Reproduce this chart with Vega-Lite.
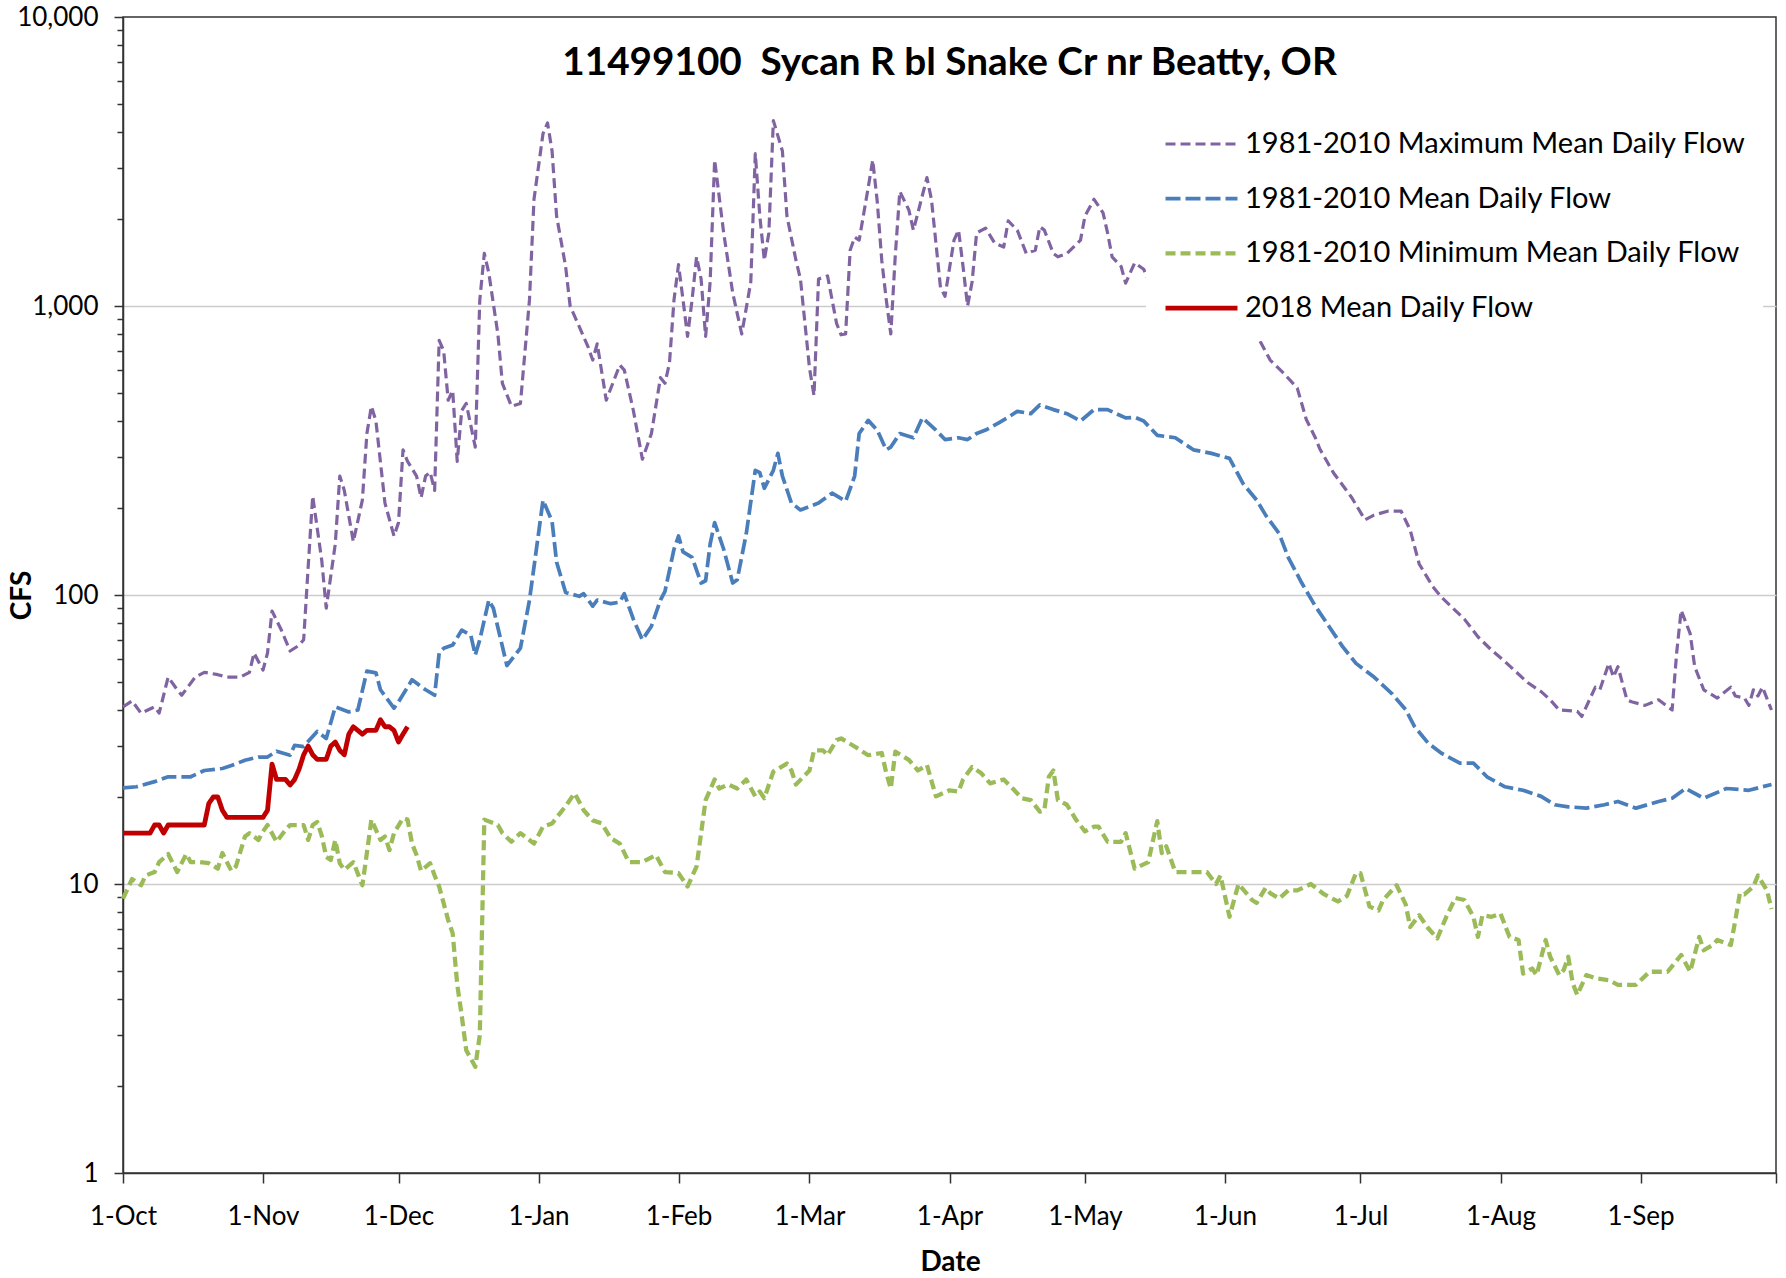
{
  "$schema": "https://vega.github.io/schema/vega-lite/v6.json",
  "width": 1653,
  "height": 1156,
  "autosize": {"type": "none"},
  "padding": {"left": 123, "top": 17, "right": 10, "bottom": 105},
  "background": "white",
  "config": {
    "font": "Lato",
    "view": {"stroke": "#333333", "strokeWidth": 1.5},
    "axis": {
      "domainColor": "#333333", "domainWidth": 1.5,
      "tickColor": "#333333", "tickWidth": 1.5,
      "labelFont": "Lato", "labelFontSize": 26, "labelColor": "#000000",
      "titleFont": "Lato", "titleFontSize": 28, "titleFontWeight": "bold", "titleColor": "#000000"
    }
  },
  "title": {
    "text": "11499100\u00a0 Sycan R bl Snake Cr nr Beatty, OR",
    "font": "Lato", "fontSize": 38.7, "fontWeight": "bold", "color": "#000000",
    "anchor": "middle", "frame": "group", "offset": -79
  },
  "data": {"values": [
    {"d":"2019-10-01","s":"max","v":41},{"d":"2019-10-03","s":"max","v":43},{"d":"2019-10-05","s":"max","v":39},{"d":"2019-10-08","s":"max","v":41},{"d":"2019-10-09","s":"max","v":39},{"d":"2019-10-11","s":"max","v":52},{"d":"2019-10-13","s":"max","v":47},{"d":"2019-10-14","s":"max","v":45},{"d":"2019-10-17","s":"max","v":52},{"d":"2019-10-19","s":"max","v":54},{"d":"2019-10-22","s":"max","v":53},{"d":"2019-10-24","s":"max","v":52},{"d":"2019-10-27","s":"max","v":52},{"d":"2019-10-29","s":"max","v":54},{"d":"2019-10-30","s":"max","v":63},{"d":"2019-11-01","s":"max","v":55},{"d":"2019-11-02","s":"max","v":63},{"d":"2019-11-03","s":"max","v":88},{"d":"2019-11-05","s":"max","v":76},{"d":"2019-11-07","s":"max","v":64},{"d":"2019-11-09","s":"max","v":67},{"d":"2019-11-10","s":"max","v":70},{"d":"2019-11-11","s":"max","v":125},{"d":"2019-11-12","s":"max","v":220},{"d":"2019-11-14","s":"max","v":132},{"d":"2019-11-15","s":"max","v":90},{"d":"2019-11-17","s":"max","v":150},{"d":"2019-11-18","s":"max","v":258},{"d":"2019-11-19","s":"max","v":230},{"d":"2019-11-21","s":"max","v":153},{"d":"2019-11-23","s":"max","v":213},{"d":"2019-11-24","s":"max","v":362},{"d":"2019-11-25","s":"max","v":450},{"d":"2019-11-26","s":"max","v":400},{"d":"2019-11-28","s":"max","v":208},{"d":"2019-11-30","s":"max","v":160},{"d":"2019-12-01","s":"max","v":178},{"d":"2019-12-02","s":"max","v":318},{"d":"2019-12-03","s":"max","v":290},{"d":"2019-12-05","s":"max","v":258},{"d":"2019-12-06","s":"max","v":217},{"d":"2019-12-07","s":"max","v":258},{"d":"2019-12-08","s":"max","v":266},{"d":"2019-12-09","s":"max","v":230},{"d":"2019-12-10","s":"max","v":760},{"d":"2019-12-11","s":"max","v":700},{"d":"2019-12-12","s":"max","v":472},{"d":"2019-12-13","s":"max","v":510},{"d":"2019-12-14","s":"max","v":290},{"d":"2019-12-15","s":"max","v":435},{"d":"2019-12-16","s":"max","v":460},{"d":"2019-12-18","s":"max","v":325},{"d":"2019-12-19","s":"max","v":1050},{"d":"2019-12-20","s":"max","v":1520},{"d":"2019-12-21","s":"max","v":1300},{"d":"2019-12-23","s":"max","v":800},{"d":"2019-12-24","s":"max","v":540},{"d":"2019-12-26","s":"max","v":450},{"d":"2019-12-28","s":"max","v":460},{"d":"2019-12-30","s":"max","v":1050},{"d":"2019-12-31","s":"max","v":2340},{"d":"2020-01-02","s":"max","v":3950},{"d":"2020-01-03","s":"max","v":4300},{"d":"2020-01-04","s":"max","v":3440},{"d":"2020-01-05","s":"max","v":2050},{"d":"2020-01-07","s":"max","v":1370},{"d":"2020-01-08","s":"max","v":1000},{"d":"2020-01-10","s":"max","v":850},{"d":"2020-01-12","s":"max","v":720},{"d":"2020-01-13","s":"max","v":650},{"d":"2020-01-14","s":"max","v":740},{"d":"2020-01-16","s":"max","v":472},{"d":"2020-01-19","s":"max","v":625},{"d":"2020-01-20","s":"max","v":600},{"d":"2020-01-22","s":"max","v":435},{"d":"2020-01-24","s":"max","v":295},{"d":"2020-01-26","s":"max","v":362},{"d":"2020-01-28","s":"max","v":565},{"d":"2020-01-29","s":"max","v":540},{"d":"2020-01-30","s":"max","v":635},{"d":"2020-01-31","s":"max","v":1050},{"d":"2020-02-01","s":"max","v":1390},{"d":"2020-02-02","s":"max","v":1050},{"d":"2020-02-03","s":"max","v":785},{"d":"2020-02-04","s":"max","v":1050},{"d":"2020-02-05","s":"max","v":1480},{"d":"2020-02-06","s":"max","v":1240},{"d":"2020-02-07","s":"max","v":785},{"d":"2020-02-08","s":"max","v":1210},{"d":"2020-02-09","s":"max","v":3200},{"d":"2020-02-11","s":"max","v":1790},{"d":"2020-02-13","s":"max","v":1110},{"d":"2020-02-15","s":"max","v":800},{"d":"2020-02-17","s":"max","v":1210},{"d":"2020-02-18","s":"max","v":3370},{"d":"2020-02-19","s":"max","v":2050},{"d":"2020-02-20","s":"max","v":1440},{"d":"2020-02-21","s":"max","v":1790},{"d":"2020-02-22","s":"max","v":4380},{"d":"2020-02-24","s":"max","v":3440},{"d":"2020-02-25","s":"max","v":2050},{"d":"2020-02-27","s":"max","v":1440},{"d":"2020-02-28","s":"max","v":1240},{"d":"2020-03-01","s":"max","v":610},{"d":"2020-03-02","s":"max","v":490},{"d":"2020-03-03","s":"max","v":1240},{"d":"2020-03-05","s":"max","v":1270},{"d":"2020-03-07","s":"max","v":870},{"d":"2020-03-08","s":"max","v":795},{"d":"2020-03-09","s":"max","v":800},{"d":"2020-03-10","s":"max","v":1560},{"d":"2020-03-11","s":"max","v":1730},{"d":"2020-03-12","s":"max","v":1690},{"d":"2020-03-14","s":"max","v":2570},{"d":"2020-03-15","s":"max","v":3200},{"d":"2020-03-16","s":"max","v":2300},{"d":"2020-03-17","s":"max","v":1440},{"d":"2020-03-18","s":"max","v":1050},{"d":"2020-03-19","s":"max","v":800},{"d":"2020-03-20","s":"max","v":1500},{"d":"2020-03-21","s":"max","v":2490},{"d":"2020-03-23","s":"max","v":2150},{"d":"2020-03-24","s":"max","v":1830},{"d":"2020-03-25","s":"max","v":2100},{"d":"2020-03-27","s":"max","v":2780},{"d":"2020-03-28","s":"max","v":2340},{"d":"2020-03-29","s":"max","v":1650},{"d":"2020-03-30","s":"max","v":1160},{"d":"2020-03-31","s":"max","v":1080},{"d":"2020-04-02","s":"max","v":1690},{"d":"2020-04-03","s":"max","v":1830},{"d":"2020-04-04","s":"max","v":1370},{"d":"2020-04-05","s":"max","v":1000},{"d":"2020-04-06","s":"max","v":1210},{"d":"2020-04-07","s":"max","v":1790},{"d":"2020-04-09","s":"max","v":1860},{"d":"2020-04-11","s":"max","v":1650},{"d":"2020-04-13","s":"max","v":1600},{"d":"2020-04-14","s":"max","v":1970},{"d":"2020-04-16","s":"max","v":1830},{"d":"2020-04-18","s":"max","v":1520},{"d":"2020-04-20","s":"max","v":1560},{"d":"2020-04-21","s":"max","v":1880},{"d":"2020-04-22","s":"max","v":1830},{"d":"2020-04-24","s":"max","v":1520},{"d":"2020-04-25","s":"max","v":1480},{"d":"2020-04-27","s":"max","v":1520},{"d":"2020-04-30","s":"max","v":1690},{"d":"2020-05-01","s":"max","v":2050},{"d":"2020-05-03","s":"max","v":2340},{"d":"2020-05-05","s":"max","v":2100},{"d":"2020-05-06","s":"max","v":1790},{"d":"2020-05-07","s":"max","v":1480},{"d":"2020-05-09","s":"max","v":1370},{"d":"2020-05-10","s":"max","v":1200},{"d":"2020-05-12","s":"max","v":1410},{"d":"2020-05-14","s":"max","v":1340},{"d":"2020-05-16","s":"max","v":1140},{"d":"2020-05-22","s":"max","v":1050},{"d":"2020-05-29","s":"max","v":950},{"d":"2020-06-04","s":"max","v":870},{"d":"2020-06-08","s":"max","v":795},{"d":"2020-06-11","s":"max","v":650},{"d":"2020-06-14","s":"max","v":585},{"d":"2020-06-17","s":"max","v":520},{"d":"2020-06-19","s":"max","v":405},{"d":"2020-06-21","s":"max","v":350},{"d":"2020-06-22","s":"max","v":320},{"d":"2020-06-25","s":"max","v":265},{"d":"2020-06-29","s":"max","v":218},{"d":"2020-07-02","s":"max","v":182},{"d":"2020-07-04","s":"max","v":189},{"d":"2020-07-07","s":"max","v":195},{"d":"2020-07-10","s":"max","v":195},{"d":"2020-07-12","s":"max","v":168},{"d":"2020-07-14","s":"max","v":128},{"d":"2020-07-17","s":"max","v":107},{"d":"2020-07-19","s":"max","v":98},{"d":"2020-07-21","s":"max","v":91.5},{"d":"2020-07-24","s":"max","v":82.5},{"d":"2020-07-27","s":"max","v":71.7},{"d":"2020-07-30","s":"max","v":64.5},{"d":"2020-08-02","s":"max","v":58.8},{"d":"2020-08-04","s":"max","v":55},{"d":"2020-08-07","s":"max","v":49.8},{"d":"2020-08-10","s":"max","v":46.3},{"d":"2020-08-12","s":"max","v":43.4},{"d":"2020-08-14","s":"max","v":40},{"d":"2020-08-18","s":"max","v":39.6},{"d":"2020-08-19","s":"max","v":38},{"d":"2020-08-22","s":"max","v":48},{"d":"2020-08-23","s":"max","v":47},{"d":"2020-08-25","s":"max","v":58},{"d":"2020-08-26","s":"max","v":52},{"d":"2020-08-27","s":"max","v":56.5},{"d":"2020-08-29","s":"max","v":43.4},{"d":"2020-08-30","s":"max","v":42.7},{"d":"2020-09-02","s":"max","v":41.5},{"d":"2020-09-05","s":"max","v":43.4},{"d":"2020-09-08","s":"max","v":40},{"d":"2020-09-09","s":"max","v":63},{"d":"2020-09-10","s":"max","v":88.5},{"d":"2020-09-12","s":"max","v":73.5},{"d":"2020-09-13","s":"max","v":56.5},{"d":"2020-09-15","s":"max","v":47},{"d":"2020-09-18","s":"max","v":44},{"d":"2020-09-21","s":"max","v":48},{"d":"2020-09-22","s":"max","v":44.7},{"d":"2020-09-24","s":"max","v":44},{"d":"2020-09-25","s":"max","v":41.5},{"d":"2020-09-26","s":"max","v":47},{"d":"2020-09-27","s":"max","v":44.7},{"d":"2020-09-28","s":"max","v":48},{"d":"2020-09-30","s":"max","v":40},

    {"d":"2019-10-01","s":"mean","v":21.5},{"d":"2019-10-04","s":"mean","v":21.7},{"d":"2019-10-08","s":"mean","v":22.6},{"d":"2019-10-11","s":"mean","v":23.5},{"d":"2019-10-16","s":"mean","v":23.5},{"d":"2019-10-19","s":"mean","v":24.7},{"d":"2019-10-23","s":"mean","v":25.1},{"d":"2019-10-25","s":"mean","v":25.7},{"d":"2019-10-28","s":"mean","v":26.8},{"d":"2019-10-31","s":"mean","v":27.5},{"d":"2019-11-02","s":"mean","v":27.5},{"d":"2019-11-04","s":"mean","v":28.8},{"d":"2019-11-07","s":"mean","v":27.9},{"d":"2019-11-08","s":"mean","v":30.2},{"d":"2019-11-10","s":"mean","v":29.9},{"d":"2019-11-13","s":"mean","v":33.7},{"d":"2019-11-15","s":"mean","v":31.9},{"d":"2019-11-17","s":"mean","v":41},{"d":"2019-11-20","s":"mean","v":39.4},{"d":"2019-11-22","s":"mean","v":40},{"d":"2019-11-24","s":"mean","v":54.5},{"d":"2019-11-26","s":"mean","v":53.8},{"d":"2019-11-27","s":"mean","v":47},{"d":"2019-11-30","s":"mean","v":40.6},{"d":"2019-12-01","s":"mean","v":42.7},{"d":"2019-12-04","s":"mean","v":50.9},{"d":"2019-12-07","s":"mean","v":47},{"d":"2019-12-09","s":"mean","v":45},{"d":"2019-12-10","s":"mean","v":62.9},{"d":"2019-12-11","s":"mean","v":65.4},{"d":"2019-12-13","s":"mean","v":67.1},{"d":"2019-12-15","s":"mean","v":75.6},{"d":"2019-12-17","s":"mean","v":72.6},{"d":"2019-12-18","s":"mean","v":62},{"d":"2019-12-19","s":"mean","v":70},{"d":"2019-12-21","s":"mean","v":96},{"d":"2019-12-22","s":"mean","v":90},{"d":"2019-12-25","s":"mean","v":57},{"d":"2019-12-28","s":"mean","v":65.5},{"d":"2019-12-30","s":"mean","v":96},{"d":"2020-01-01","s":"mean","v":163},{"d":"2020-01-02","s":"mean","v":213},{"d":"2020-01-04","s":"mean","v":180},{"d":"2020-01-05","s":"mean","v":130},{"d":"2020-01-07","s":"mean","v":102},{"d":"2020-01-10","s":"mean","v":99},{"d":"2020-01-11","s":"mean","v":101},{"d":"2020-01-13","s":"mean","v":91.5},{"d":"2020-01-14","s":"mean","v":96},{"d":"2020-01-17","s":"mean","v":93.3},{"d":"2020-01-19","s":"mean","v":94.5},{"d":"2020-01-20","s":"mean","v":101},{"d":"2020-01-22","s":"mean","v":82.5},{"d":"2020-01-24","s":"mean","v":70},{"d":"2020-01-26","s":"mean","v":78},{"d":"2020-01-28","s":"mean","v":96},{"d":"2020-01-29","s":"mean","v":103},{"d":"2020-01-31","s":"mean","v":144},{"d":"2020-02-01","s":"mean","v":160},{"d":"2020-02-02","s":"mean","v":141},{"d":"2020-02-04","s":"mean","v":135},{"d":"2020-02-06","s":"mean","v":110},{"d":"2020-02-07","s":"mean","v":112},{"d":"2020-02-08","s":"mean","v":150},{"d":"2020-02-09","s":"mean","v":178},{"d":"2020-02-11","s":"mean","v":144},{"d":"2020-02-13","s":"mean","v":110},{"d":"2020-02-14","s":"mean","v":113},{"d":"2020-02-16","s":"mean","v":163},{"d":"2020-02-18","s":"mean","v":270},{"d":"2020-02-19","s":"mean","v":265},{"d":"2020-02-20","s":"mean","v":234},{"d":"2020-02-22","s":"mean","v":270},{"d":"2020-02-23","s":"mean","v":309},{"d":"2020-02-24","s":"mean","v":258},{"d":"2020-02-26","s":"mean","v":208},{"d":"2020-02-28","s":"mean","v":197},{"d":"2020-03-03","s":"mean","v":208},{"d":"2020-03-06","s":"mean","v":225},{"d":"2020-03-09","s":"mean","v":211},{"d":"2020-03-11","s":"mean","v":258},{"d":"2020-03-12","s":"mean","v":362},{"d":"2020-03-14","s":"mean","v":402},{"d":"2020-03-16","s":"mean","v":372},{"d":"2020-03-18","s":"mean","v":318},{"d":"2020-03-19","s":"mean","v":325},{"d":"2020-03-21","s":"mean","v":362},{"d":"2020-03-24","s":"mean","v":350},{"d":"2020-03-26","s":"mean","v":410},{"d":"2020-03-29","s":"mean","v":372},{"d":"2020-03-31","s":"mean","v":345},{"d":"2020-04-03","s":"mean","v":350},{"d":"2020-04-05","s":"mean","v":345},{"d":"2020-04-07","s":"mean","v":362},{"d":"2020-04-09","s":"mean","v":372},{"d":"2020-04-12","s":"mean","v":395},{"d":"2020-04-14","s":"mean","v":412},{"d":"2020-04-16","s":"mean","v":432},{"d":"2020-04-19","s":"mean","v":424},{"d":"2020-04-21","s":"mean","v":455},{"d":"2020-04-24","s":"mean","v":438},{"d":"2020-04-27","s":"mean","v":424},{"d":"2020-04-30","s":"mean","v":400},{"d":"2020-05-03","s":"mean","v":438},{"d":"2020-05-06","s":"mean","v":438},{"d":"2020-05-10","s":"mean","v":410},{"d":"2020-05-12","s":"mean","v":412},{"d":"2020-05-14","s":"mean","v":400},{"d":"2020-05-17","s":"mean","v":357},{"d":"2020-05-21","s":"mean","v":350},{"d":"2020-05-25","s":"mean","v":318},{"d":"2020-05-29","s":"mean","v":309},{"d":"2020-06-02","s":"mean","v":297},{"d":"2020-06-05","s":"mean","v":243},{"d":"2020-06-08","s":"mean","v":213},{"d":"2020-06-10","s":"mean","v":189},{"d":"2020-06-13","s":"mean","v":163},{"d":"2020-06-15","s":"mean","v":135},{"d":"2020-06-18","s":"mean","v":110},{"d":"2020-06-21","s":"mean","v":91.5},{"d":"2020-06-24","s":"mean","v":78},{"d":"2020-06-27","s":"mean","v":66.4},{"d":"2020-06-30","s":"mean","v":58},{"d":"2020-07-04","s":"mean","v":52},{"d":"2020-07-08","s":"mean","v":45.5},{"d":"2020-07-11","s":"mean","v":40.1},{"d":"2020-07-13","s":"mean","v":35},{"d":"2020-07-16","s":"mean","v":30.7},{"d":"2020-07-19","s":"mean","v":28.3},{"d":"2020-07-23","s":"mean","v":26.2},{"d":"2020-07-26","s":"mean","v":26.2},{"d":"2020-07-29","s":"mean","v":23.5},{"d":"2020-08-02","s":"mean","v":21.7},{"d":"2020-08-06","s":"mean","v":21.1},{"d":"2020-08-10","s":"mean","v":20.1},{"d":"2020-08-13","s":"mean","v":18.8},{"d":"2020-08-16","s":"mean","v":18.5},{"d":"2020-08-20","s":"mean","v":18.3},{"d":"2020-08-24","s":"mean","v":18.8},{"d":"2020-08-27","s":"mean","v":19.3},{"d":"2020-08-31","s":"mean","v":18.3},{"d":"2020-09-05","s":"mean","v":19.3},{"d":"2020-09-08","s":"mean","v":19.8},{"d":"2020-09-11","s":"mean","v":21.4},{"d":"2020-09-15","s":"mean","v":19.8},{"d":"2020-09-20","s":"mean","v":21.4},{"d":"2020-09-25","s":"mean","v":21.1},{"d":"2020-09-30","s":"mean","v":22.1},

    {"d":"2019-10-01","s":"min","v":8.9},{"d":"2019-10-03","s":"min","v":10.4},{"d":"2019-10-05","s":"min","v":9.9},{"d":"2019-10-06","s":"min","v":10.7},{"d":"2019-10-08","s":"min","v":11},{"d":"2019-10-09","s":"min","v":11.9},{"d":"2019-10-11","s":"min","v":12.7},{"d":"2019-10-13","s":"min","v":11},{"d":"2019-10-15","s":"min","v":12.7},{"d":"2019-10-16","s":"min","v":11.9},{"d":"2019-10-18","s":"min","v":11.9},{"d":"2019-10-20","s":"min","v":11.8},{"d":"2019-10-22","s":"min","v":11.3},{"d":"2019-10-23","s":"min","v":12.8},{"d":"2019-10-25","s":"min","v":11.1},{"d":"2019-10-26","s":"min","v":11.5},{"d":"2019-10-28","s":"min","v":14.6},{"d":"2019-10-29","s":"min","v":15},{"d":"2019-10-31","s":"min","v":14.2},{"d":"2019-11-01","s":"min","v":15.2},{"d":"2019-11-02","s":"min","v":16},{"d":"2019-11-04","s":"min","v":14},{"d":"2019-11-06","s":"min","v":15.4},{"d":"2019-11-07","s":"min","v":16},{"d":"2019-11-10","s":"min","v":16},{"d":"2019-11-11","s":"min","v":14.2},{"d":"2019-11-12","s":"min","v":16},{"d":"2019-11-13","s":"min","v":16.4},{"d":"2019-11-14","s":"min","v":14.7},{"d":"2019-11-15","s":"min","v":12.4},{"d":"2019-11-16","s":"min","v":12.1},{"d":"2019-11-17","s":"min","v":14.2},{"d":"2019-11-18","s":"min","v":11.8},{"d":"2019-11-19","s":"min","v":11.2},{"d":"2019-11-21","s":"min","v":11.9},{"d":"2019-11-23","s":"min","v":9.9},{"d":"2019-11-24","s":"min","v":12.8},{"d":"2019-11-25","s":"min","v":16.7},{"d":"2019-11-27","s":"min","v":14.2},{"d":"2019-11-28","s":"min","v":14.6},{"d":"2019-11-29","s":"min","v":13.1},{"d":"2019-11-30","s":"min","v":15},{"d":"2019-12-02","s":"min","v":16.9},{"d":"2019-12-03","s":"min","v":16.7},{"d":"2019-12-04","s":"min","v":13.8},{"d":"2019-12-05","s":"min","v":12.6},{"d":"2019-12-06","s":"min","v":11.1},{"d":"2019-12-08","s":"min","v":11.8},{"d":"2019-12-09","s":"min","v":10.7},{"d":"2019-12-10","s":"min","v":9.8},{"d":"2019-12-12","s":"min","v":7.5},{"d":"2019-12-13","s":"min","v":6.75},{"d":"2019-12-14","s":"min","v":4.5},{"d":"2019-12-15","s":"min","v":3.5},{"d":"2019-12-16","s":"min","v":2.66},{"d":"2019-12-18","s":"min","v":2.33},{"d":"2019-12-19","s":"min","v":3.0},{"d":"2019-12-20","s":"min","v":16.7},{"d":"2019-12-23","s":"min","v":16},{"d":"2019-12-24","s":"min","v":15},{"d":"2019-12-26","s":"min","v":14},{"d":"2019-12-28","s":"min","v":15},{"d":"2019-12-31","s":"min","v":13.8},{"d":"2020-01-02","s":"min","v":15.8},{"d":"2020-01-04","s":"min","v":16.2},{"d":"2020-01-07","s":"min","v":18.6},{"d":"2020-01-09","s":"min","v":20.6},{"d":"2020-01-11","s":"min","v":18},{"d":"2020-01-13","s":"min","v":16.6},{"d":"2020-01-15","s":"min","v":16.2},{"d":"2020-01-17","s":"min","v":14.4},{"d":"2020-01-19","s":"min","v":13.8},{"d":"2020-01-21","s":"min","v":11.9},{"d":"2020-01-24","s":"min","v":11.9},{"d":"2020-01-27","s":"min","v":12.6},{"d":"2020-01-29","s":"min","v":11},{"d":"2020-02-01","s":"min","v":10.9},{"d":"2020-02-03","s":"min","v":9.8},{"d":"2020-02-05","s":"min","v":11.5},{"d":"2020-02-06","s":"min","v":15},{"d":"2020-02-07","s":"min","v":19.5},{"d":"2020-02-09","s":"min","v":23},{"d":"2020-02-10","s":"min","v":21.4},{"d":"2020-02-12","s":"min","v":22.1},{"d":"2020-02-14","s":"min","v":21.4},{"d":"2020-02-16","s":"min","v":23},{"d":"2020-02-18","s":"min","v":20.1},{"d":"2020-02-19","s":"min","v":20.9},{"d":"2020-02-20","s":"min","v":19.8},{"d":"2020-02-22","s":"min","v":24.5},{"d":"2020-02-25","s":"min","v":26.1},{"d":"2020-02-26","s":"min","v":24.7},{"d":"2020-02-27","s":"min","v":22.1},{"d":"2020-03-01","s":"min","v":24.7},{"d":"2020-03-02","s":"min","v":29},{"d":"2020-03-04","s":"min","v":29},{"d":"2020-03-05","s":"min","v":27.9},{"d":"2020-03-07","s":"min","v":31.5},{"d":"2020-03-08","s":"min","v":31.9},{"d":"2020-03-11","s":"min","v":29.9},{"d":"2020-03-14","s":"min","v":27.9},{"d":"2020-03-17","s":"min","v":28.4},{"d":"2020-03-18","s":"min","v":24.2},{"d":"2020-03-19","s":"min","v":21.4},{"d":"2020-03-20","s":"min","v":28.7},{"d":"2020-03-23","s":"min","v":26.9},{"d":"2020-03-25","s":"min","v":24.7},{"d":"2020-03-27","s":"min","v":25.8},{"d":"2020-03-29","s":"min","v":20.1},{"d":"2020-04-01","s":"min","v":21.1},{"d":"2020-04-03","s":"min","v":20.9},{"d":"2020-04-04","s":"min","v":23},{"d":"2020-04-06","s":"min","v":25.4},{"d":"2020-04-08","s":"min","v":24.2},{"d":"2020-04-10","s":"min","v":22.3},{"d":"2020-04-13","s":"min","v":23},{"d":"2020-04-15","s":"min","v":21.4},{"d":"2020-04-17","s":"min","v":19.8},{"d":"2020-04-19","s":"min","v":19.5},{"d":"2020-04-21","s":"min","v":17.8},{"d":"2020-04-22","s":"min","v":18},{"d":"2020-04-23","s":"min","v":23.5},{"d":"2020-04-24","s":"min","v":24.7},{"d":"2020-04-25","s":"min","v":19.5},{"d":"2020-04-27","s":"min","v":18.8},{"d":"2020-04-29","s":"min","v":16.7},{"d":"2020-05-01","s":"min","v":15.2},{"d":"2020-05-03","s":"min","v":15.8},{"d":"2020-05-04","s":"min","v":15.8},{"d":"2020-05-06","s":"min","v":14},{"d":"2020-05-09","s":"min","v":14},{"d":"2020-05-10","s":"min","v":15},{"d":"2020-05-12","s":"min","v":11.3},{"d":"2020-05-15","s":"min","v":11.9},{"d":"2020-05-17","s":"min","v":16.5},{"d":"2020-05-18","s":"min","v":12.8},{"d":"2020-05-19","s":"min","v":13.5},{"d":"2020-05-21","s":"min","v":11},{"d":"2020-05-24","s":"min","v":11},{"d":"2020-05-28","s":"min","v":11},{"d":"2020-05-30","s":"min","v":10},{"d":"2020-05-31","s":"min","v":10.7},{"d":"2020-06-02","s":"min","v":7.7},{"d":"2020-06-03","s":"min","v":8.8},{"d":"2020-06-04","s":"min","v":10},{"d":"2020-06-07","s":"min","v":8.8},{"d":"2020-06-08","s":"min","v":8.6},{"d":"2020-06-10","s":"min","v":9.7},{"d":"2020-06-11","s":"min","v":9.3},{"d":"2020-06-13","s":"min","v":8.9},{"d":"2020-06-15","s":"min","v":9.5},{"d":"2020-06-17","s":"min","v":9.5},{"d":"2020-06-20","s":"min","v":10},{"d":"2020-06-23","s":"min","v":9.2},{"d":"2020-06-26","s":"min","v":8.7},{"d":"2020-06-28","s":"min","v":9.1},{"d":"2020-06-30","s":"min","v":10.9},{"d":"2020-07-01","s":"min","v":10.9},{"d":"2020-07-03","s":"min","v":8.35},{"d":"2020-07-05","s":"min","v":8.1},{"d":"2020-07-06","s":"min","v":8.8},{"d":"2020-07-09","s":"min","v":9.9},{"d":"2020-07-11","s":"min","v":8.5},{"d":"2020-07-12","s":"min","v":7.1},{"d":"2020-07-14","s":"min","v":7.8},{"d":"2020-07-16","s":"min","v":7.03},{"d":"2020-07-18","s":"min","v":6.48},{"d":"2020-07-20","s":"min","v":7.7},{"d":"2020-07-22","s":"min","v":8.95},{"d":"2020-07-24","s":"min","v":8.8},{"d":"2020-07-26","s":"min","v":7.7},{"d":"2020-07-27","s":"min","v":6.56},{"d":"2020-07-28","s":"min","v":7.8},{"d":"2020-07-30","s":"min","v":7.7},{"d":"2020-08-01","s":"min","v":7.9},{"d":"2020-08-03","s":"min","v":6.56},{"d":"2020-08-05","s":"min","v":6.4},{"d":"2020-08-06","s":"min","v":4.9},{"d":"2020-08-08","s":"min","v":5.1},{"d":"2020-08-09","s":"min","v":4.84},{"d":"2020-08-11","s":"min","v":6.4},{"d":"2020-08-12","s":"min","v":5.6},{"d":"2020-08-14","s":"min","v":4.84},{"d":"2020-08-15","s":"min","v":5.04},{"d":"2020-08-16","s":"min","v":5.6},{"d":"2020-08-17","s":"min","v":4.53},{"d":"2020-08-18","s":"min","v":4.13},{"d":"2020-08-20","s":"min","v":4.84},{"d":"2020-08-22","s":"min","v":4.72},{"d":"2020-08-25","s":"min","v":4.65},{"d":"2020-08-27","s":"min","v":4.48},{"d":"2020-08-31","s":"min","v":4.48},{"d":"2020-09-03","s":"min","v":4.97},{"d":"2020-09-07","s":"min","v":4.97},{"d":"2020-09-10","s":"min","v":5.68},{"d":"2020-09-12","s":"min","v":4.97},{"d":"2020-09-14","s":"min","v":6.56},{"d":"2020-09-15","s":"min","v":5.9},{"d":"2020-09-17","s":"min","v":6.15},{"d":"2020-09-18","s":"min","v":6.4},{"d":"2020-09-21","s":"min","v":6.15},{"d":"2020-09-22","s":"min","v":7.5},{"d":"2020-09-23","s":"min","v":9.3},{"d":"2020-09-24","s":"min","v":9.2},{"d":"2020-09-26","s":"min","v":9.8},{"d":"2020-09-27","s":"min","v":10.7},{"d":"2020-09-29","s":"min","v":9.5},{"d":"2020-09-30","s":"min","v":8.2},

    {"d":"2019-10-01","s":"y18","v":15},{"d":"2019-10-02","s":"y18","v":15},{"d":"2019-10-03","s":"y18","v":15},{"d":"2019-10-04","s":"y18","v":15},{"d":"2019-10-05","s":"y18","v":15},{"d":"2019-10-06","s":"y18","v":15},{"d":"2019-10-07","s":"y18","v":15},{"d":"2019-10-08","s":"y18","v":16},{"d":"2019-10-09","s":"y18","v":16},{"d":"2019-10-10","s":"y18","v":15},{"d":"2019-10-11","s":"y18","v":16},{"d":"2019-10-12","s":"y18","v":16},{"d":"2019-10-13","s":"y18","v":16},{"d":"2019-10-14","s":"y18","v":16},{"d":"2019-10-15","s":"y18","v":16},{"d":"2019-10-16","s":"y18","v":16},{"d":"2019-10-17","s":"y18","v":16},{"d":"2019-10-18","s":"y18","v":16},{"d":"2019-10-19","s":"y18","v":16},{"d":"2019-10-20","s":"y18","v":19},{"d":"2019-10-21","s":"y18","v":20},{"d":"2019-10-22","s":"y18","v":20},{"d":"2019-10-23","s":"y18","v":18},{"d":"2019-10-24","s":"y18","v":17},{"d":"2019-10-25","s":"y18","v":17},{"d":"2019-10-26","s":"y18","v":17},{"d":"2019-10-27","s":"y18","v":17},{"d":"2019-10-28","s":"y18","v":17},{"d":"2019-10-29","s":"y18","v":17},{"d":"2019-10-30","s":"y18","v":17},{"d":"2019-10-31","s":"y18","v":17},{"d":"2019-11-01","s":"y18","v":17},{"d":"2019-11-02","s":"y18","v":18},{"d":"2019-11-03","s":"y18","v":26},{"d":"2019-11-04","s":"y18","v":23},{"d":"2019-11-05","s":"y18","v":23},{"d":"2019-11-06","s":"y18","v":23},{"d":"2019-11-07","s":"y18","v":22},{"d":"2019-11-08","s":"y18","v":23},{"d":"2019-11-09","s":"y18","v":25},{"d":"2019-11-10","s":"y18","v":28},{"d":"2019-11-11","s":"y18","v":30},{"d":"2019-11-12","s":"y18","v":28},{"d":"2019-11-13","s":"y18","v":27},{"d":"2019-11-14","s":"y18","v":27},{"d":"2019-11-15","s":"y18","v":27},{"d":"2019-11-16","s":"y18","v":30},{"d":"2019-11-17","s":"y18","v":31},{"d":"2019-11-18","s":"y18","v":29},{"d":"2019-11-19","s":"y18","v":28},{"d":"2019-11-20","s":"y18","v":33},{"d":"2019-11-21","s":"y18","v":35},{"d":"2019-11-22","s":"y18","v":34},{"d":"2019-11-23","s":"y18","v":33},{"d":"2019-11-24","s":"y18","v":34},{"d":"2019-11-25","s":"y18","v":34},{"d":"2019-11-26","s":"y18","v":34},{"d":"2019-11-27","s":"y18","v":37},{"d":"2019-11-28","s":"y18","v":35},{"d":"2019-11-29","s":"y18","v":35},{"d":"2019-11-30","s":"y18","v":34},{"d":"2019-12-01","s":"y18","v":31},{"d":"2019-12-02","s":"y18","v":33},{"d":"2019-12-03","s":"y18","v":35}
  ]},
  "mark": {"type": "line", "strokeJoin": "round"},
  "encoding": {
    "x": {
      "field": "d", "type": "temporal",
      "scale": {"type": "utc", "domain": [{"year": 2019, "month": 10, "date": 1, "utc": true}, {"year": 2020, "month": 10, "date": 1, "utc": true}]},
      "axis": {
        "title": "Date",
        "values": [
          {"year": 2019, "month": 10, "date": 1, "utc": true},{"year": 2019, "month": 11, "date": 1, "utc": true},{"year": 2019, "month": 12, "date": 1, "utc": true},
          {"year": 2020, "month": 1, "date": 1, "utc": true},{"year": 2020, "month": 2, "date": 1, "utc": true},{"year": 2020, "month": 3, "date": 1, "utc": true},
          {"year": 2020, "month": 4, "date": 1, "utc": true},{"year": 2020, "month": 5, "date": 1, "utc": true},{"year": 2020, "month": 6, "date": 1, "utc": true},
          {"year": 2020, "month": 7, "date": 1, "utc": true},{"year": 2020, "month": 8, "date": 1, "utc": true},{"year": 2020, "month": 9, "date": 1, "utc": true},
          {"year": 2020, "month": 10, "date": 1, "utc": true}
        ],
        "labelExpr": "datum.value >= utc(2020, 8, 15) ? '' : utcFormat(datum.value, '%-d-%b')",
        "grid": false, "tickSize": 10, "labelPadding": 20, "labelFlush": false, "labelOverlap": false,
        "titleX": 827, "titleY": 89, "titleBaseline": "middle", "titleAlign": "center"
      }
    },
    "y": {
      "field": "v", "type": "quantitative",
      "scale": {"type": "log", "domain": [1, 10000], "nice": false},
      "axis": {
        "title": "CFS",
        "values": [1,2,3,4,5,6,7,8,9,10,20,30,40,50,60,70,80,90,100,200,300,400,500,600,700,800,900,1000,2000,3000,4000,5000,6000,7000,8000,9000,10000],
        "labelExpr": "indexof([1,10,100,1000,10000], datum.value) >= 0 ? format(datum.value, ',') : ''",
        "tickSize": {"condition": {"test": "indexof([1,10,100,1000,10000], datum.value) >= 0", "value": 9}, "value": 6},
        "labelPadding": 16, "labelOverlap": false, "labelFlush": false,
        "grid": true, "gridColor": "#cccccc", "gridWidth": 1.5,
        "gridOpacity": {"condition": {"test": "indexof([10,100,1000], datum.value) >= 0", "value": 1}, "value": 0},
        "titleX": -101, "titleY": 578, "titleAngle": -90, "titleBaseline": "middle", "titleAlign": "center"
      }
    },
    "color": {
      "field": "s", "type": "nominal",
      "scale": {"domain": ["max", "mean", "min", "y18"], "range": ["#8064A2", "#4A7EBB", "#9BBB59", "#C00000"]},
      "legend": {
        "orient": "none", "legendX": 1023, "legendY": 95, "title": null,
        "padding": 17, "fillColor": "white",
        "labelFont": "Lato", "labelFontSize": 29, "labelColor": "#000000", "labelLimit": 1000, "labelOffset": 5,
        "symbolType": "stroke", "symbolSize": 5184, "clipHeight": 30, "rowPadding": 24.7,
        "labelExpr": "datum.label == 'max' ? '1981-2010 Maximum Mean Daily Flow' : datum.label == 'mean' ? '1981-2010 Mean Daily Flow' : datum.label == 'min' ? '1981-2010 Minimum Mean Daily Flow' : '2018 Mean Daily Flow'"
      }
    },
    "strokeDash": {
      "field": "s", "type": "nominal",
      "scale": {"domain": ["max", "mean", "min", "y18"], "range": [[10, 5], [15, 5], [10, 5], [1, 0]]}
    },
    "strokeWidth": {
      "field": "s", "type": "nominal",
      "scale": {"domain": ["max", "mean", "min", "y18"], "range": [3.2, 4.8, 3.2, 4.7]}
    }
  }
}
